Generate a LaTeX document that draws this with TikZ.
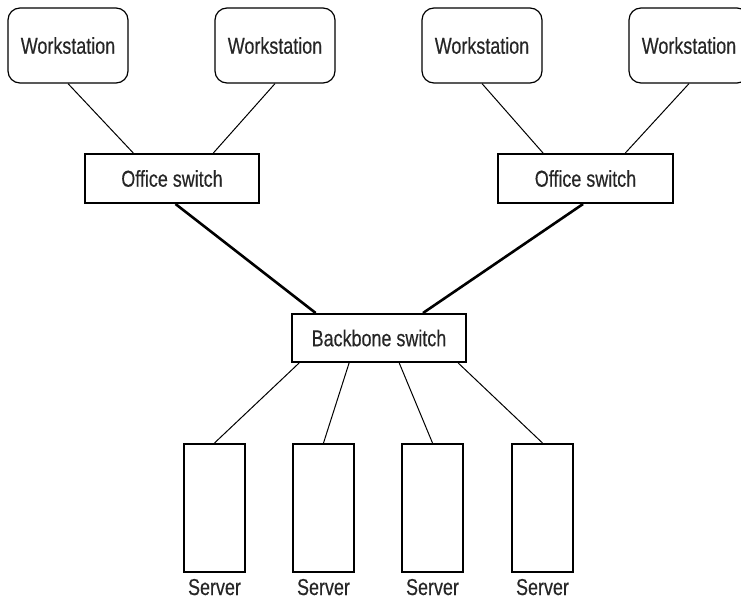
\documentclass[tikz,border=0pt]{standalone}
\usepackage{fontspec}
\setmainfont[FakeStretch=0.78,FakeBold=0.4]{Liberation Sans}
\usetikzlibrary{calc}
\definecolor{txt}{HTML}{262626}
\tikzset{
  ws/.style={draw, line width=1.2pt, rounded corners=12pt, minimum width=120pt, minimum height=75pt, inner sep=0pt, text=txt, font=\fontsize{23}{27}\selectfont},
  sw/.style={draw, line width=2pt, minimum width=174pt, minimum height=49pt, inner sep=0pt, text=txt, font=\fontsize{23}{27}\selectfont},
  srv/.style={draw, line width=2pt, minimum width=61pt, minimum height=128pt, inner sep=0pt},
  lbl/.style={inner sep=0pt, anchor=base, text=txt, font=\fontsize{23}{27}\selectfont},
  thin/.style={line width=1pt},
  thick2/.style={line width=2.6pt}
}
\begin{document}
\begin{tikzpicture}[x=1pt,y=-1pt]
\useasboundingbox (0,0) rectangle (741,599);
\clip (0,0) rectangle (741,599);
\node[ws] (W1) at (68,45.5) {Workstation};
\node[ws] (W2) at (275,45.5) {Workstation};
\node[ws] (W3) at (482,45.5) {Workstation};
\node[ws] (W4) at (689,45.5) {Workstation};
\node[sw] (OS1) at (172,178.5) {Office switch};
\node[sw, minimum width=175pt] (OS2) at (585.5,178.5) {Office switch};
\node[sw, minimum height=48pt] (BB) at (379,338) {Backbone switch};
\node[srv] (S1) at (214.5,508) {};
\node[srv] (S2) at (323.5,508) {};
\node[srv] (S3) at (432.5,508) {};
\node[srv] (S4) at (542.5,508) {};
\node[lbl] (L1) at (214.5,595) {Server};
\node[lbl] (L2) at (323.5,595) {Server};
\node[lbl] (L3) at (432.5,595) {Server};
\node[lbl] (L4) at (542.5,595) {Server};
% workstation links
\draw[thin] (W1.south) -- ($(OS1.north west)!0.28!(OS1.north east)$);
\draw[thin] (W2.south) -- ($(OS1.north west)!0.735!(OS1.north east)$);
\draw[thin] (W3.south) -- ($(OS2.north west)!0.26!(OS2.north east)$);
\draw[thin] (W4.south) -- ($(OS2.north west)!0.725!(OS2.north east)$);
% backbone links
\draw[thick2] ($(OS1.south west)!0.52!(OS1.south east)$) -- ($(BB.north west)!0.14!(BB.north east)$);
\draw[thick2] ($(OS2.south west)!0.486!(OS2.south east)$) -- ($(BB.north west)!0.75!(BB.north east)$);
% server links
\draw[thin] ($(BB.south west)!0.046!(BB.south east)$) -- (S1.north);
\draw[thin] ($(BB.south west)!0.33!(BB.south east)$) -- (S2.north);
\draw[thin] ($(BB.south west)!0.615!(BB.south east)$) -- (S3.north);
\draw[thin] ($(BB.south west)!0.95!(BB.south east)$) -- (S4.north);
\end{tikzpicture}
\end{document}
